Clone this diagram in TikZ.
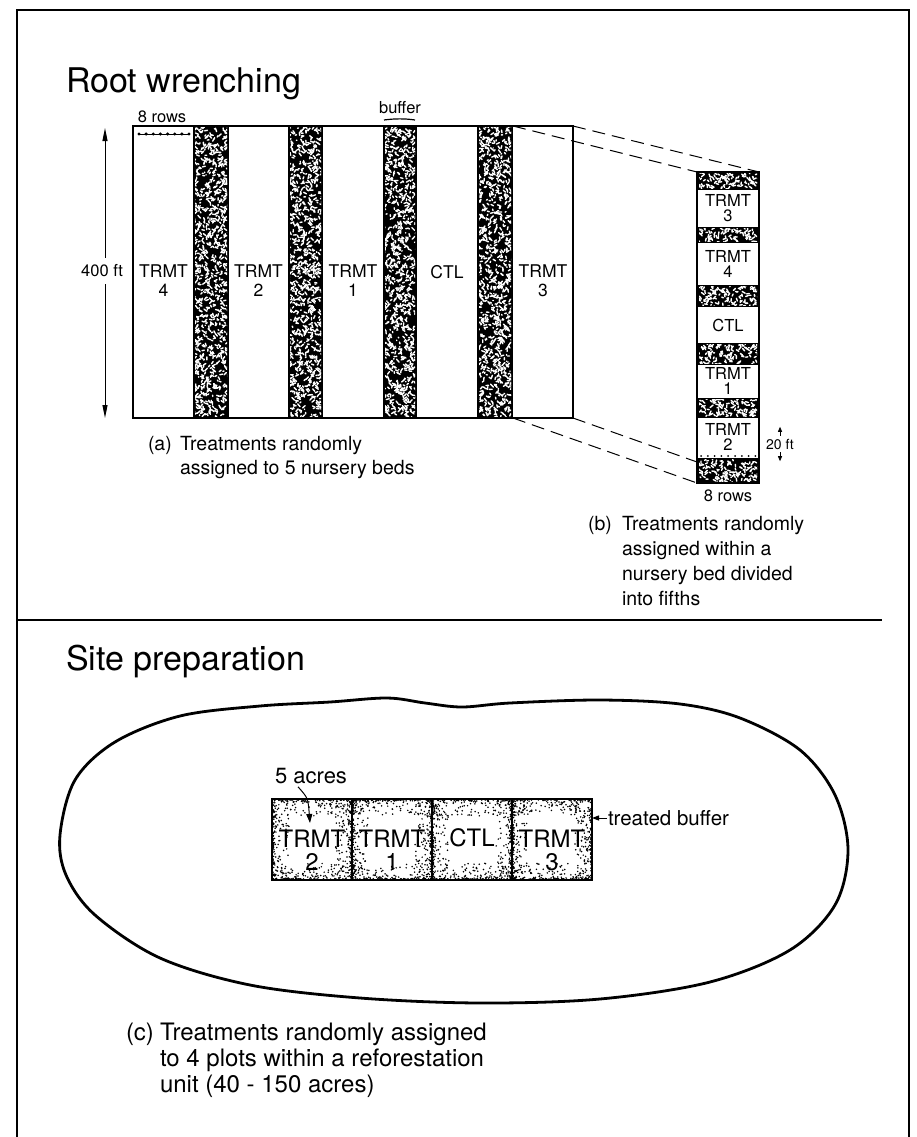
\documentclass[tikz,border=0pt]{standalone}
\usepackage{fontspec}
\setmainfont{TeX Gyre Heros}
\usetikzlibrary{arrows.meta}
\newcommand\darkstrip[4]{%
  \fill[black] (#1,#2) rectangle (#3,#4);
  \begin{scope}
  \clip (#1+2,#2+1.5) rectangle (#3-2,#4-1.5);
  \pgfmathtruncatemacro\nsp{(#3-#1)*(#4-#2)/11}
  \foreach \i in {1,...,\nsp}{
    \draw[white,line width=1.4pt,line cap=round] ({#1+1+rnd*(#3-#1-2)},{#2+1+rnd*(#4-#2-2)}) -- ++({(rnd-0.5)*6},{(rnd-0.5)*6});
  }
  \end{scope}}
\newcommand\stipbox[4]{%
  \begin{scope}
  \clip (#1,#2) rectangle (#3,#4);
  \foreach \i in {1,...,130}{
    \fill ({#1+rnd*(#3-#1)},{#2+1+pow(rnd,2.6)*16}) circle (0.85pt);
    \fill ({#1+rnd*(#3-#1)},{#4-1-pow(rnd,2.6)*16}) circle (0.85pt);
    \fill ({#1+1+pow(rnd,2.6)*16},{#2+rnd*(#4-#2)}) circle (0.85pt);
    \fill ({#3-1-pow(rnd,2.6)*16},{#2+rnd*(#4-#2)}) circle (0.85pt);
  }
  \end{scope}}
\begin{document}
\begin{tikzpicture}[x=1pt,y=-1pt,
  every node/.style={inner sep=0pt,outer sep=0pt},
  lab/.style={font=\fontsize{17.5}{19}\selectfont,align=center},
  clab/.style={font=\fontsize{16.5}{15.5}\selectfont,align=center},
  plab/.style={font=\fontsize{24}{23}\selectfont,align=center},
  head/.style={font=\fontsize{34}{40}\selectfont,anchor=base west},
  capt/.style={font=\fontsize{19.5}{25}\selectfont,anchor=base west},
  ccapt/.style={font=\fontsize{24}{25}\selectfont,anchor=base west},
  small/.style={font=\fontsize{16.5}{18}\selectfont},
  dsh/.style={dash pattern=on 13pt off 7pt,line width=1pt},
  box/.style={draw,line width=1.6pt},
  pbox/.style={draw,line width=2pt,minimum width=80pt,minimum height=81pt},
  tipline/.style={-{Triangle[length=13pt,width=5pt]},line width=1pt}]
\useasboundingbox (0,0) rectangle (916,1137);
\fill[white] (0,0) rectangle (916,1137);
\pgfmathsetseed{42}

% frame
\draw[line width=1.6pt] (17,1137) -- (17,10) -- (909,10) -- (909,1137);

% ---------- Root wrenching ----------
\node[head] (h1) at (66,93) {Root wrenching};

\darkstrip{193}{126}{229}{418}
\darkstrip{288}{126}{323}{418}
\darkstrip{383}{126}{417}{418}
\darkstrip{477}{126}{513}{418}
\node[box,minimum width=440pt,minimum height=292pt,anchor=north west] (bed) at (133,126) {};

\node[lab] (l4) at (163.5,281) {TRMT\\4};
\node[lab] (l2) at (258.5,281) {TRMT\\2};
\node[lab] (l1) at (353,281) {TRMT\\1};
\node[lab] (lc) at (447,272) {CTL};
\node[lab] (l3) at (543,281) {TRMT\\3};

\node[small] (r8a) at (162,117) {8 rows};
\draw[line width=0.6pt] (139,134) -- (189,134);
\foreach \k in {0,...,7} \fill ({139+\k*7.14},134) circle (1.7pt);

\node[small] (buf) at (400,108) {buffer};
\draw[line width=1.2pt] (384,120) .. controls (395,118.5) and (405,118.5) .. (415,120);

\node[small] (h400) at (102,271) {400 ft};
\coordinate (h400t) at (105,128);
\coordinate (h400b) at (105,418);
\draw[tipline] (h400.north -| h400t) ++(0,-7) -- (h400t);
\draw[tipline] (h400.south -| h400b) ++(0,7) -- (h400b);

% column (b)
\darkstrip{697}{172}{759}{190}
\darkstrip{697}{227}{759}{243}
\darkstrip{697}{285}{759}{307}
\darkstrip{697}{343}{759}{365}
\darkstrip{697}{398}{759}{418}
\darkstrip{697}{458}{759}{483}
\node[box,minimum width=62pt,minimum height=311pt,anchor=north west] (col) at (697,172) {};
\foreach \k in {0,...,8} \fill ({701+\k*6.8},456) circle (1pt);

\node[clab] (c3) at (728,208) {TRMT\\3};
\node[clab] (c4) at (728,264) {TRMT\\4};
\node[clab] (cc) at (728,325) {CTL};
\node[clab] (c1) at (728,381) {TRMT\\1};
\node[clab] (c2) at (728,437) {TRMT\\2};
\node[small] (r8b) at (728,496) {8 rows};

\node[font=\fontsize{14}{14}\selectfont] (f20) at (780,444) {20 ft};
\draw[-{Triangle[length=5pt,width=4pt]},line width=0.8pt] ([yshift=3pt]f20.north) -- ++(0,-9);
\draw[-{Triangle[length=5pt,width=4pt]},line width=0.8pt] ([yshift=-3pt]f20.south) -- ++(0,9);

\coordinate (s4t) at (513,126);
\coordinate (s4b) at (513,418);
\coordinate (d1) at (697,462);
\draw[dsh] (s4t) -- (col.north west);
\draw[dsh] (bed.north east) -- (col.north east);
\draw[dsh] (s4b) -- (col.south west);
\draw[dsh] (bed.south east) -- (d1);

% captions a, b
\node[capt] (ca0) at (148,450) {(a)};
\node[capt] (ca1) at (180,450) {Treatments randomly};
\node[capt] (ca2) at (180,474) {assigned to 5 nursery beds};

\node[capt] (cb0) at (588,530) {(b)};
\node[capt] (cb1) at (622,530) {Treatments randomly};
\node[capt] (cb2) at (622,555) {assigned within a};
\node[capt] (cb3) at (622,580) {nursery bed divided};
\node[capt] (cb4) at (622,605) {into fifths};

\draw[line width=1.2pt] (17,620) -- (882,620);

% ---------- Site preparation ----------
\node[head] (h2) at (66,670) {Site preparation};

\draw[line width=2.8pt] plot[smooth cycle,tension=0.55] coordinates {
 (60,835) (75,780) (115,742) (180,716) (260,706) (330,702) (387,698) (425,703)
 (462,707) (510,703) (600,700) (680,704) (740,718) (800,750) (835,795) (848,850)
 (835,905) (790,950) (710,982) (600,999) (480,1003) (360,998) (250,985) (160,958)
 (95,915) (66,875)};

\stipbox{272}{799}{352}{880}
\stipbox{352}{799}{432}{880}
\stipbox{432}{799}{512}{880}
\stipbox{512}{799}{592}{880}
\node[pbox] (p1) at (312,839.5) {};
\node[pbox] (p2) at (392,839.5) {};
\node[pbox] (p3) at (472,839.5) {};
\node[pbox] (p4) at (552,839.5) {};
\draw[line width=2.8pt] (p1.north west) rectangle (p4.south east);

\node[plab] (pl1) at (312,850) {TRMT\\2};
\node[plab] (pl2) at (392,850) {TRMT\\1};
\node[plab] (pl3) at (472,838) {CTL};
\node[plab] (pl4) at (552,850) {TRMT\\3};

\node[font=\fontsize{22}{22}\selectfont] (ac) at (311,776) {5 acres};
\coordinate (ace) at (310,823);
\draw[line width=1pt,-{Triangle[length=9pt,width=6pt]}] ([xshift=-13pt,yshift=-3pt]ac.south) .. controls (308,798) .. (ace);

\node[font=\fontsize{20.5}{20.5}\selectfont,anchor=west] (tb) at (608,818) {treated buffer};
\coordinate (tbe) at (592,818);
\draw[line width=1pt,-{Triangle[length=7pt,width=5pt]}] ([xshift=-1pt]tb.west) -- (tbe);

% caption c
\node[ccapt] (cc0) at (126,1040) {(c)};
\node[ccapt] (cc1) at (160,1040) {Treatments randomly assigned};
\node[ccapt] (cc2) at (160,1066) {to 4 plots within a reforestation};
\node[ccapt] (cc3) at (160,1092) {unit (40 - 150 acres)};
\end{tikzpicture}
\end{document}
